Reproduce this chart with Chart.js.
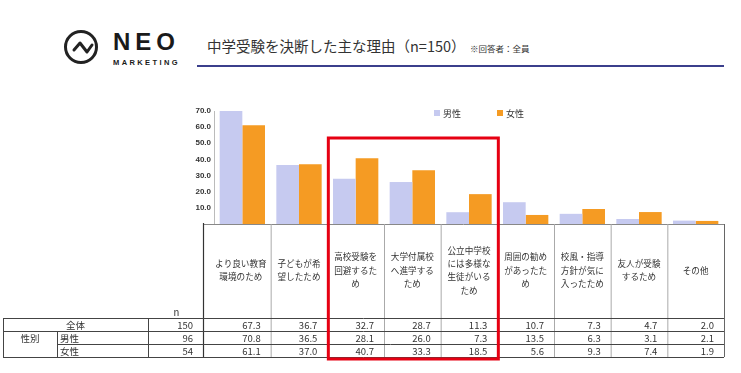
<!DOCTYPE html>
<html>
<head>
<meta charset="utf-8">
<script src="https://cdn.jsdelivr.net/npm/chart.js@4"></script>
<style>
  body { margin: 0; background: #fff; }
  #wrap { position: relative; width: 741px; height: 373px; overflow: hidden; }
  #chart { position: absolute; left: 0; top: 0; }
  .abs { position: absolute; white-space: nowrap; color: #333; }
</style>
</head>
<body>
<div id="wrap">
  <svg class="abs" style="left:62px;top:29px" width="40" height="36">
    <circle cx="19" cy="18" r="15.5" fill="none" stroke="#222" stroke-width="3"/>
    <polyline points="12,21 18,14 25,23 30,16" fill="none" stroke="#222" stroke-width="3" stroke-linejoin="round" stroke-linecap="round"/>
  </svg>
  <div class="abs" style="left:113px;top:30px;font:bold 24px 'Liberation Sans';letter-spacing:5px;color:#1a1a1a;line-height:24px">NEO</div>
  <div class="abs" style="left:113px;top:58px;font:bold 7.5px 'Liberation Sans';letter-spacing:2.4px;color:#1a1a1a;line-height:9px">MARKETING</div>
  <div class="abs" style="left:207px;top:37px;font:14.5px 'Noto Sans CJK JP';line-height:18px">中学受験を決断した主な理由（n=150）</div>
  <div class="abs" style="left:470px;top:42px;font:8.5px 'Noto Sans CJK JP';line-height:12px">※回答者：全員</div>
  <div class="abs" style="left:197px;top:65px;width:527px;height:2px;background:#3b3f8c"></div>
  <canvas id="chart" width="741" height="373"></canvas>
</div>
<script>
// chart data
const categories = [
    ['より良い教育', '環境のため'],
    ['子どもが希', '望したため'],
    ['高校受験を', '回避するた', 'め'],
    ['大学付属校', 'へ進学する', 'ため'],
    ['公立中学校', 'には多様な', '生徒がいる', 'ため'],
    ['周囲の勧め', 'があったた', 'め'],
    ['校風・指導', '方針が気に', '入ったため'],
    ['友人が受験', 'するため'],
    ['その他']
];
const seriesNames = ['男性', '女性'];
const totalValues = [67.3, 36.7, 32.7, 28.7, 11.3, 10.7, 7.3, 4.7, 2.0];
const maleValues = [70.8, 36.5, 28.1, 26.0, 7.3, 13.5, 6.3, 3.1, 2.1];
const femaleValues = [61.1, 37.0, 40.7, 33.3, 18.5, 5.6, 9.3, 7.4, 1.9];
const nValues = [150, 96, 54];
const yTicks = [0, 10, 20, 30, 40, 50, 60, 70];

const MALE = '#c6caf0';
const FEMALE = '#f59b23';
const FONT = "'Noto Sans CJK JP', sans-serif";

// draws the legend, the category boxes and the data table under the bars
const tablePlugin = {
    id: 'dataTable',
    afterDraw(chart) {
        const ctx = chart.ctx;
        const area = chart.chartArea;
        const x = chart.scales.x;
        const w = (area.right - area.left) / categories.length;
        const edges = categories.map((c, i) => x.getPixelForValue(i) - w / 2);
        edges.push(area.right);
        edges[0] = area.left - 11;

        const base = area.bottom;
        const tTop = 318, r1 = 331, r2 = 344, tBot = 357;
        const left = 3, sexCol = 57, nCol = 148;

        ctx.save();
        // legend
        ctx.font = '9px ' + FONT;
        ctx.textBaseline = 'middle';
        const legX = [434, 497];
        chart.data.datasets.forEach((ds, i) => {
            ctx.fillStyle = ds.backgroundColor;
            ctx.fillRect(legX[i], 110, 6, 6);
            ctx.fillStyle = '#333';
            ctx.textAlign = 'left';
            ctx.fillText(ds.label, legX[i] + 9, 113.5);
        });

        // lines
        const line = (x1, y1, x2, y2, col, lw) => {
            ctx.beginPath();
            ctx.strokeStyle = col;
            ctx.lineWidth = lw || 1;
            ctx.moveTo(x1, y1);
            ctx.lineTo(x2, y2);
            ctx.stroke();
        };
        line(edges[0], base + 0.5, area.right, base + 0.5, '#888');
        for (let i = 1; i < edges.length - 1; i++) {
            line(edges[i] + 0.5, base, edges[i] + 0.5, tBot, '#aaa');
        }
        line(edges[0] + 0.5, base - 1, edges[0] + 0.5, tBot, '#333', 1.2);
        line(area.right + 0.5, base, area.right + 0.5, tBot, '#666');
        line(left, tTop + 0.5, area.right, tTop + 0.5, '#444');
        line(left, r1 + 0.5, area.right, r1 + 0.5, '#444');
        line(sexCol, r2 + 0.5, area.right, r2 + 0.5, '#444');
        line(left, tBot + 0.5, area.right, tBot + 0.5, '#444');
        line(left + 0.5, tTop, left + 0.5, tBot, '#444');
        line(sexCol + 0.5, r1, sexCol + 0.5, tBot, '#444');
        line(nCol + 0.5, tTop, nCol + 0.5, tBot, '#444');

        // category labels
        ctx.fillStyle = '#333';
        ctx.font = '8.6px ' + FONT;
        ctx.textAlign = 'center';
        const midY = 270.5, lh = 13.4;
        categories.forEach((lines, i) => {
            const cx = (edges[i] + edges[i + 1]) / 2 + (i === 0 ? 4 : 0);
            const y0 = midY - (lines.length - 1) * lh / 2;
            lines.forEach((t, j) => ctx.fillText(t, cx, y0 + j * lh));
        });

        // table
        ctx.font = '9.5px ' + FONT;
        const rowY = [(tTop + r1) / 2 + 0.5, (r1 + r2) / 2 + 0.5, (r2 + tBot) / 2 + 0.5];
        ctx.textAlign = 'center';
        ctx.fillText('n', (nCol + edges[0]) / 2 + 1, 312);
        ctx.fillText('全体', (left + nCol) / 2, rowY[0]);
        ctx.fillText('性別', (left + sexCol) / 2, (r1 + tBot) / 2 - 6);
        ctx.textAlign = 'left';
        ctx.fillText(seriesNames[0], sexCol + 3, rowY[1]);
        ctx.fillText(seriesNames[1], sexCol + 3, rowY[2]);
        ctx.textAlign = 'right';
        nValues.forEach((n, r) => ctx.fillText(String(n), edges[0] - 10, rowY[r]));
        [totalValues, maleValues, femaleValues].forEach((vals, r) => {
            vals.forEach((v, i) => ctx.fillText(v.toFixed(1), edges[i + 1] - 10, rowY[r]));
        });

        // red highlight box
        ctx.strokeStyle = '#e60012';
        ctx.lineWidth = 3;
        ctx.strokeRect(edges[2] + 1, 138, edges[5] - edges[2], 221);
        ctx.restore();
    }
};

new Chart(document.getElementById('chart'), {
    type: 'bar',
    data: {
        labels: categories,
        datasets: [
            { label: seriesNames[0], data: maleValues, backgroundColor: MALE },
            { label: seriesNames[1], data: femaleValues, backgroundColor: FEMALE }
        ]
    },
    options: {
        responsive: false,
        devicePixelRatio: 1,
        animation: false,
        layout: { padding: { left: 0, right: 17, top: 111, bottom: 149 } },
        datasets: { bar: { categoryPercentage: 0.8, barPercentage: 1.0 } },
        plugins: { legend: { display: false }, tooltip: { enabled: false } },
        scales: {
            x: { display: false },
            y: {
                min: 0,
                max: 70,
                afterFit: (s) => { s.width = 214; },
                afterBuildTicks: (s) => { s.ticks = yTicks.map(v => ({ value: v })); },
                grid: { display: false, drawTicks: false },
                border: { color: '#bbb' },
                ticks: {
                    padding: 3,
                    color: '#333',
                    font: { family: 'Liberation Sans', size: 8, weight: 'bold' },
                    callback: (v) => v === 0 ? '' : v.toFixed(1)
                }
            }
        }
    },
    plugins: [tablePlugin]
});
</script>
</body>
</html>
